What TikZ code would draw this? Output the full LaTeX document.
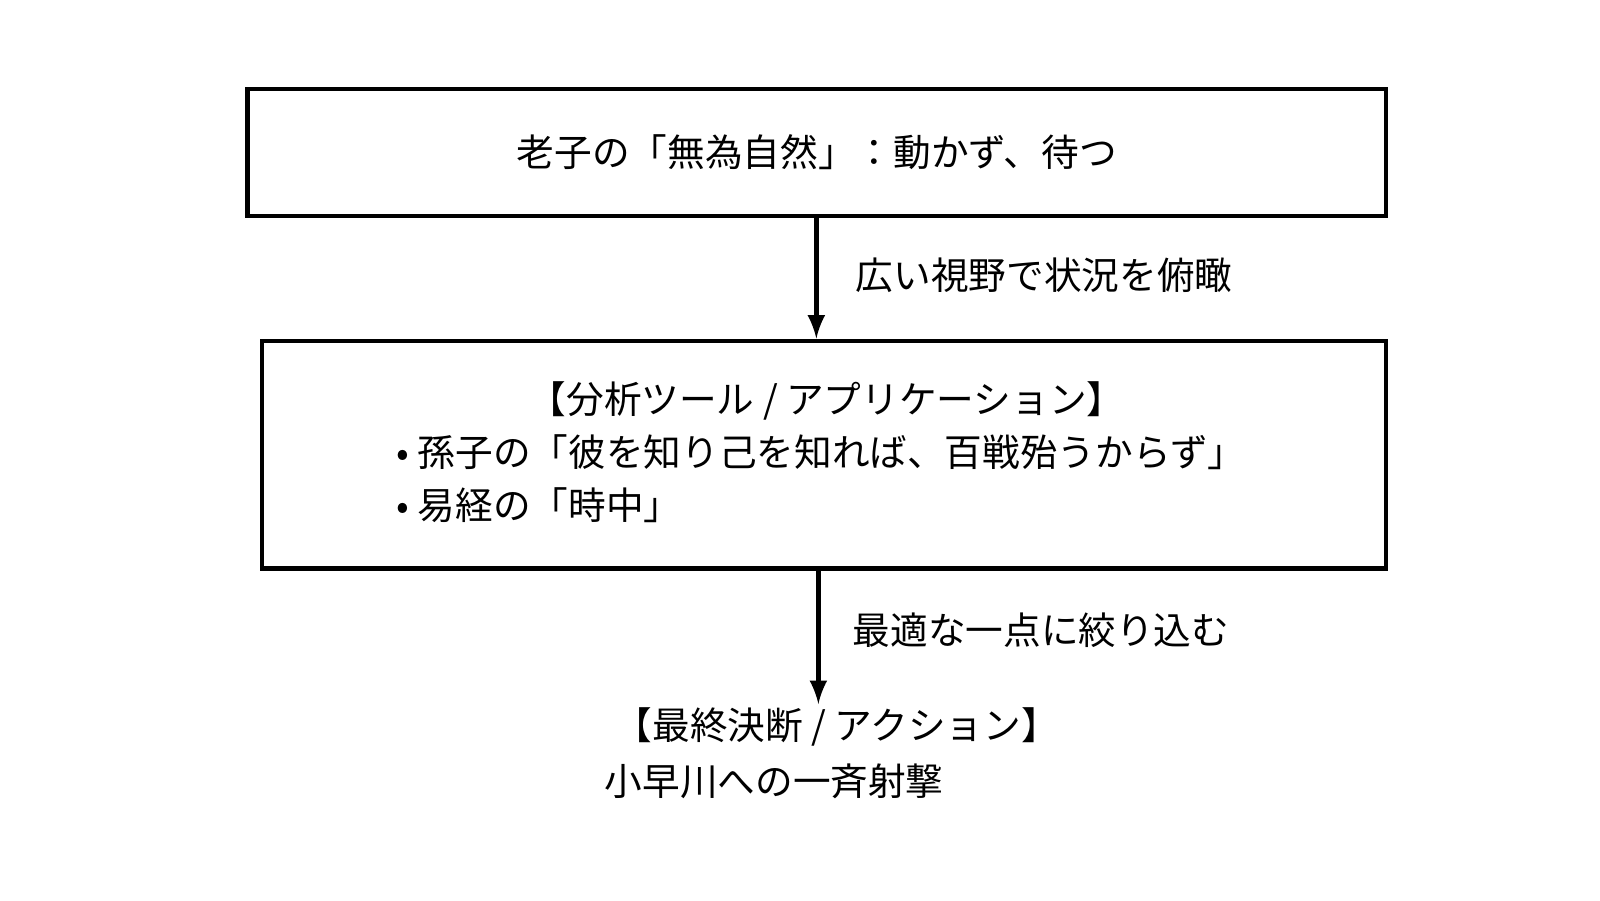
\documentclass[tikz,border=0pt]{standalone}
\usepackage{fontspec}
\setmainfont{Noto Sans CJK JP}
\usetikzlibrary{positioning}
\tikzset{
  box/.style={draw, line width=1.3pt},
  txt/.style={font=\fontsize{10.7}{12}\selectfont, inner sep=0pt},
  flow/.style={-latex, line width=1.3pt}
}
\begin{document}
\begin{tikzpicture}[x=0.0102cm, y=-0.0102cm]
        % boxes
        \node[box, minimum width=11.37cm, minimum height=1.27cm] (lao) at (800.5, 149.5) {};
        \node[box, minimum width=11.23cm, minimum height=2.27cm] (tool) at (807.5, 445.5) {};
        \coordinate (top1) at (800, 212);
        \coordinate (act) at (802, 690);
        \node[txt] (laotxt) at (lao) {老子の「無為自然」：動かず、待つ};
        \node[txt] (tooltitle) at (810, 393) {【分析ツール / アプリケーション】};
        \node[txt, anchor=west] (sun) at (388, 443) {• 孫子の「彼を知り己を知れば、百戦殆うからず」};
        \node[txt, anchor=west] (eki) at (388, 495) {• 易経の「時中」};
        \node[txt] (acttitle) at (820, 712) {【最終決断 / アクション】};
        \node[txt, anchor=west] (acttxt) at (592, 766) {小早川への一斉射撃};
        % connectors
        \draw[flow] (top1) -- (tool.north -| top1);
        \draw[flow] (tool.south -| act) -- (act);
        \node[txt, anchor=west] (l1) at (838, 270) {広い視野で状況を俯瞰};
        \node[txt, anchor=west] (l2) at (835, 618) {最適な一点に絞り込む};
        \pgfresetboundingbox
        \useasboundingbox (0, 0) rectangle (1568, 882);
\end{tikzpicture}
\end{document}
